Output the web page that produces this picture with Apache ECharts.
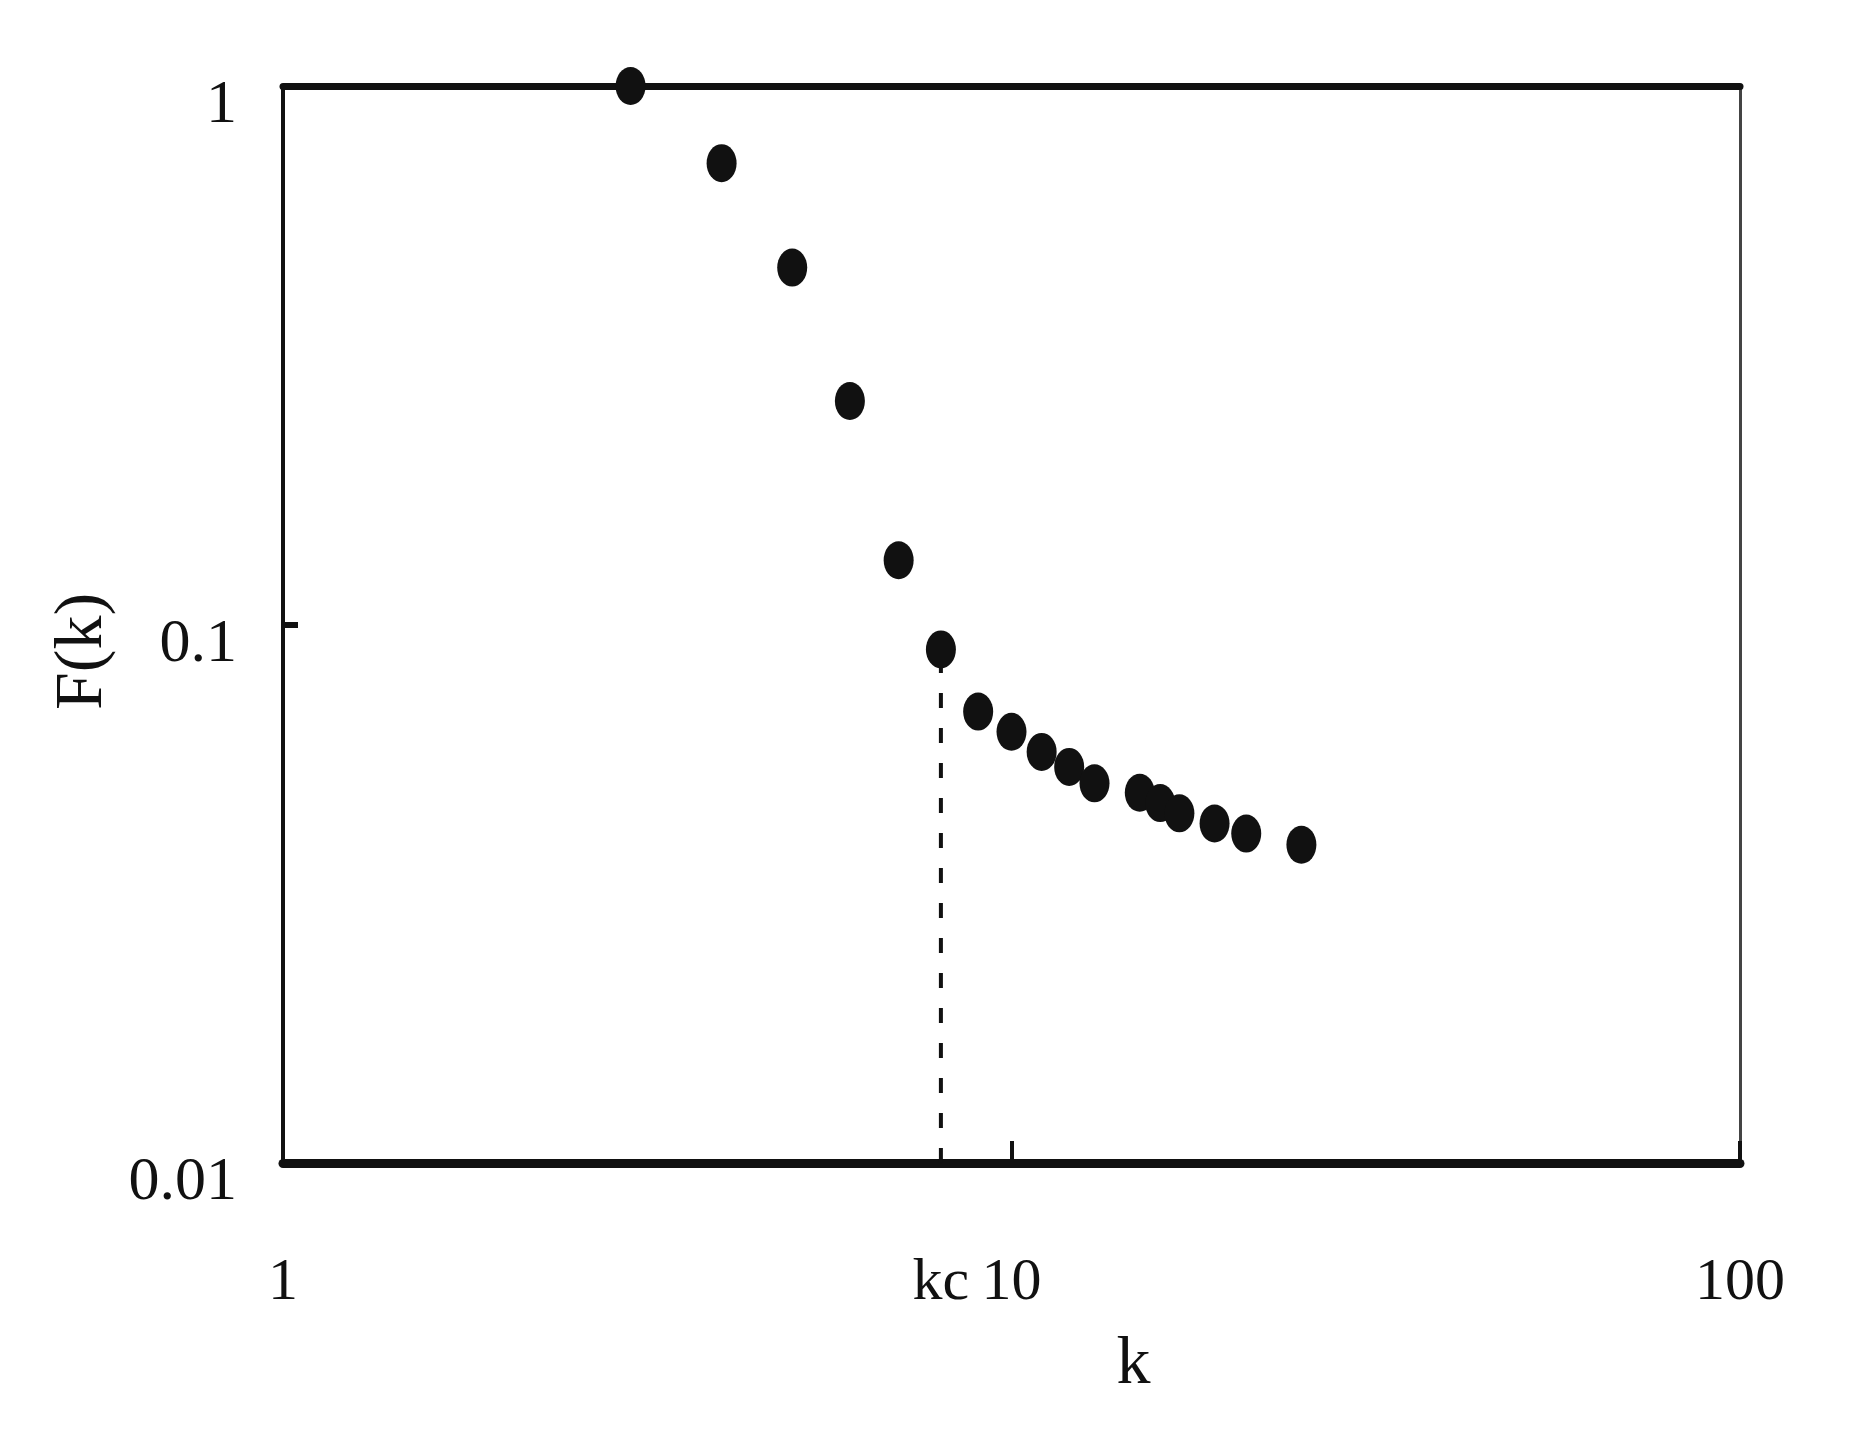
<!DOCTYPE html>
<html>
<head>
<meta charset="utf-8">
<script src="https://cdn.jsdelivr.net/npm/echarts@6/dist/echarts.min.js"></script>
<style>
html,body{margin:0;padding:0;background:#fff;}
#chart{width:1857px;height:1437px;}
</style>
</head>
<body>
<div id="chart"></div>
<script>
// Data (log-log plot)
const kValues = [3, 4, 5, 6, 7, 8, 9, 10, 11, 12, 13, 15, 16, 17, 19, 21, 25];
const FValues = [1.0, 0.719, 0.460, 0.260, 0.1316, 0.0899, 0.0689, 0.0632, 0.0580, 0.0544, 0.0507, 0.0487, 0.0466, 0.0446, 0.0427, 0.0409, 0.0390];
const kc = 8;
const kcF = 0.0899;
const kcLabel = 'kc';
const xTickLabels = ['1', '10', '100'];
const yTickLabels = ['0.01', '0.1', '1'];
const xName = 'k';
const yName = 'F(k)';
const xMin = 1, xMax = 100, yMin = 0.01, yMax = 1;

const points = kValues.map((k, i) => [k, FValues[i]]);
const ink = '#111';
const serif = 'Liberation Serif';

const chart = echarts.init(document.getElementById('chart'), null, {renderer: 'canvas'});
chart.setOption({
  backgroundColor: '#fff',
  animation: false,
  grid: {left: 283, right: 117, top: 86, bottom: 274, containLabel: false, outerBoundsMode: 'none'},
  xAxis: [{
    type: 'log', logBase: 10, min: xMin, max: xMax, position: 'bottom',
    name: xName, nameLocation: 'middle', nameGap: 168,
    nameTextStyle: {fontFamily: serif, fontSize: 68, color: ink, padding: [0, 0, 0, 244]},
    axisLine: {show: true, lineStyle: {color: ink, width: 9}},
    axisTick: {show: true, inside: true, length: 22, lineStyle: {color: ink, width: 4}},
    axisLabel: {show: true, margin: 90, fontFamily: serif, fontSize: 60, color: ink,
      formatter: v => { const i = [1, 10, 100].indexOf(Math.round(v)); return i >= 0 ? xTickLabels[i] : ''; }},
    splitLine: {show: false}, minorTick: {show: false}
  }, {
    type: 'log', logBase: 10, min: xMin, max: xMax, position: 'top',
    axisLine: {show: true, lineStyle: {color: ink, width: 7}},
    axisTick: {show: false}, axisLabel: {show: false}, splitLine: {show: false}
  }],
  yAxis: [{
    type: 'log', logBase: 10, min: yMin, max: yMax, position: 'left',
    name: yName, nameLocation: 'middle', nameGap: 158,
    nameTextStyle: {fontFamily: serif, fontSize: 68, color: ink, padding: [0, 54, 0, 0]},
    axisLine: {show: true, lineStyle: {color: ink, width: 4}},
    axisTick: {show: true, inside: true, length: 15, lineStyle: {color: ink, width: 6}},
    axisLabel: {show: true, margin: 46, fontFamily: serif, fontSize: 62, color: ink,
      verticalAlign: 'top', lineHeight: 40,
      formatter: v => { const lv = Math.round(Math.log10(v)); const i = lv + 2; return yTickLabels[i] || ''; }},
    splitLine: {show: false}, minorTick: {show: false}
  }, {
    type: 'log', logBase: 10, min: yMin, max: yMax, position: 'right',
    axisLine: {show: true, lineStyle: {color: '#444', width: 3}},
    axisTick: {show: false}, axisLabel: {show: false}, splitLine: {show: false}
  }],
  series: [{
    type: 'line',
    data: [[kc, yMin], [kc, kcF]],
    symbol: 'none',
    lineStyle: {color: ink, width: 4, type: [15, 20]},
    z: 2, silent: true
  }, {
    type: 'scatter',
    data: points,
    symbol: 'circle',
    symbolSize: [30, 38],
    itemStyle: {color: ink, opacity: 1},
    z: 3, clip: false
  }, {
    type: 'scatter',
    data: [[kc, yMin]],
    symbolSize: 1,
    clip: false,
    itemStyle: {color: ink, opacity: 1},
    label: {show: true, position: 'bottom', distance: 90, formatter: kcLabel,
      fontFamily: serif, fontSize: 60, color: ink, opacity: 1},
    z: 4, silent: true
  }]
});
</script>
</body>
</html>
